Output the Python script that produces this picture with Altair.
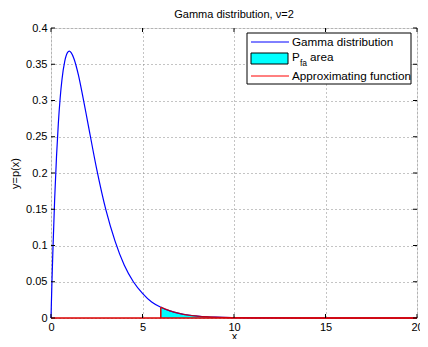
import altair as alt
import pandas as pd

# Gamma distribution curve
x_vals = [0, 0.05, 0.1, 0.2, 0.3, 0.4, 0.5, 0.6, 0.75, 0.9, 1.0, 1.1, 1.25, 1.5, 1.75, 2, 2.5, 3, 3.5, 4,
          4.5, 5, 5.5, 6, 6.5, 7, 7.5, 8, 8.5, 9, 10, 11, 12, 14, 16, 18, 20]
y_vals = [0, 0.048, 0.090, 0.164, 0.222, 0.268, 0.303, 0.329, 0.354, 0.366, 0.368, 0.366, 0.358, 0.335, 0.304, 0.271, 0.205, 0.149, 0.106, 0.073,
          0.050, 0.034, 0.022, 0.0149, 0.0098, 0.0064, 0.0041, 0.0027, 0.0017, 0.0011, 0.0005, 0.0002, 0.0001, 0, 0, 0, 0]
threshold = 6
x_ticks = [0, 5, 10, 15, 20]
y_ticks = [0, 0.05, 0.1, 0.15, 0.2, 0.25, 0.3, 0.35, 0.4]
title_text = "Gamma distribution, \u03bd=2"
legend_labels = ["Gamma distribution", "P", "fa", "area", "Approximating function"]

W, H = 366, 290
FONT = "Liberation Sans"

df = pd.DataFrame({"x": x_vals, "y": y_vals})
tail = df[df["x"] >= threshold]
thr_y = float(df.loc[df["x"] == threshold, "y"].iloc[0])

xs = alt.Scale(domain=[0, 20], nice=False, zero=False)
ys = alt.Scale(domain=[0, 0.4], nice=False)

x_axis = alt.Axis(values=x_ticks, format="~g", title="x", grid=True, labelFlush=False,
                  gridDash=[1, 3], gridColor="#888", gridWidth=1, domain=False, ticks=False,
                  labelFont=FONT, labelFontSize=11, labelColor="black", labelPadding=3,
                  titleFont=FONT, titleFontSize=11, titleFontWeight="normal", titleColor="black",
                  titleBaseline="alphabetic", titleY=21)
y_axis = alt.Axis(values=y_ticks, format="~g", title="y=p(x)", grid=True, labelFlush=False,
                  gridDash=[1, 3], gridColor="#888", gridWidth=1, domain=False, ticks=False,
                  labelFont=FONT, labelFontSize=11, labelColor="black", labelPadding=4,
                  titleFont=FONT, titleFontSize=11, titleFontWeight="normal", titleColor="black", titlePadding=5)


def X(f="x"):
    return alt.X(f"{f}:Q", scale=xs, axis=x_axis)


def Y(f="y"):
    return alt.Y(f"{f}:Q", scale=ys, axis=y_axis)


area = alt.Chart(tail).mark_area(color="#00ffff", opacity=1, interpolate="monotone").encode(x=X(), y=Y())

curve = alt.Chart(df).mark_line(color="#0000ff", strokeWidth=1.2, interpolate="monotone").encode(x=X(), y=Y())

red_tail = alt.Chart(tail).mark_line(color="#cc0000", strokeWidth=1.3, interpolate="monotone", opacity=0.85).encode(
    x=X(), y=Y())

red_base = alt.Chart(pd.DataFrame({"x": [0], "x2": [20], "y": [0]})).mark_rule(color="#dd0000", strokeWidth=1.5).encode(
    x=X(), x2="x2:Q", y=Y())

red_vert = alt.Chart(pd.DataFrame({"x": [threshold], "y": [0], "y2": [thr_y]})).mark_rule(color="#dd0000", strokeWidth=1.5).encode(
    x=X(), y=Y(), y2="y2:Q")

# inner tick marks (MATLAB style)
xt = pd.DataFrame({"x": x_ticks})
yt = pd.DataFrame({"y": y_ticks})
TL = 4
xtick_b = alt.Chart(xt).mark_rule(color="black").encode(x=X(), y=alt.value(H), y2=alt.value(H - TL))
xtick_t = alt.Chart(xt).mark_rule(color="black").encode(x=X(), y=alt.value(0), y2=alt.value(TL))
ytick_l = alt.Chart(yt).mark_rule(color="black").encode(y=Y(), x=alt.value(0), x2=alt.value(TL))
ytick_r = alt.Chart(yt).mark_rule(color="black").encode(y=Y(), x=alt.value(W), x2=alt.value(W - TL))

one = pd.DataFrame({"a": [0]})
lg = alt.Chart(one)

# title as text above the plot
title_mark = lg.mark_text(font=FONT, fontSize=11, color="black", align="center", baseline="alphabetic").encode(
    x=alt.value(W / 2), y=alt.value(-10), text=alt.value(title_text))

# legend box
LX = W - 170
lbox = lg.mark_rect(fill="white", stroke="black", strokeWidth=1).encode(
    x=alt.value(LX), x2=alt.value(LX + 164), y=alt.value(5), y2=alt.value(56))
l1 = lg.mark_rule(color="#0000ff", strokeWidth=1).encode(x=alt.value(LX + 4), x2=alt.value(LX + 42), y=alt.value(14))
l2 = lg.mark_rect(fill="#00ffff", stroke="black", strokeWidth=1).encode(
    x=alt.value(LX + 4), x2=alt.value(LX + 41), y=alt.value(25), y2=alt.value(36))
l3 = lg.mark_rule(color="#ff0000", strokeWidth=1).encode(x=alt.value(LX + 4), x2=alt.value(LX + 42), y=alt.value(48))
txt = dict(font=FONT, fontSize=11.7, color="black", align="left", baseline="middle")
t1 = lg.mark_text(**txt).encode(x=alt.value(LX + 45), y=alt.value(14), text=alt.value(legend_labels[0]))
t2a = lg.mark_text(**txt).encode(x=alt.value(LX + 45), y=alt.value(29), text=alt.value(legend_labels[1]))
t2b = lg.mark_text(font=FONT, fontSize=8.5, color="black", align="left", baseline="middle").encode(
    x=alt.value(LX + 53), y=alt.value(35), text=alt.value(legend_labels[2]))
t2c = lg.mark_text(**txt).encode(x=alt.value(LX + 63), y=alt.value(29), text=alt.value(legend_labels[3]))
t3 = lg.mark_text(**txt).encode(x=alt.value(LX + 45), y=alt.value(48), text=alt.value(legend_labels[4]))

chart = alt.layer(
    area, curve, red_tail, red_base, red_vert,
    xtick_b, xtick_t, ytick_l, ytick_r,
    title_mark, lbox, l1, l2, l3, t1, t2a, t2b, t2c, t3,
).properties(
    width=W, height=H,
    autosize=alt.AutoSizeParams(type="none"),
    padding={"left": 43, "top": 20, "right": 3, "bottom": 21},
).configure_view(stroke="black", strokeWidth=1).configure(background="white")

chart.save("out.html", embed_options={"renderer": "svg", "actions": False})
